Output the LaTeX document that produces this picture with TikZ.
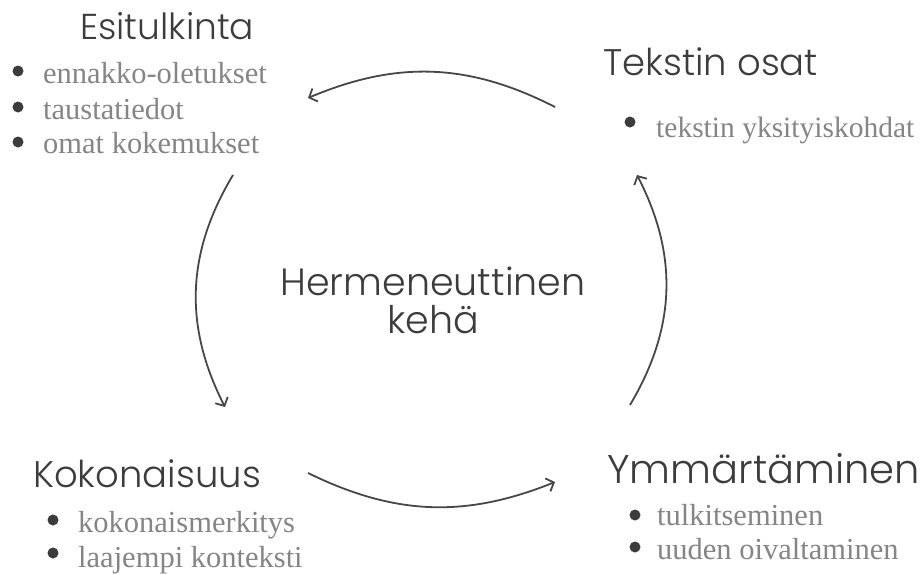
\documentclass[tikz,border=0pt]{standalone}
\usepackage{fontspec}
\newfontfamily\headfont{Poppins Light}
\newfontfamily\itemfont{Liberation Serif}
\usetikzlibrary{arrows.meta}
\definecolor{hkdark}{HTML}{3C3C3C}
\definecolor{hkgrey}{HTML}{858585}
\definecolor{hkline}{HTML}{474747}

\begin{document}
\begin{tikzpicture}[x=1pt,y=1pt,
  head/.style={anchor=base west,inner sep=0pt,text=hkdark,font=\headfont\fontsize{#1}{40}\selectfont},
  head/.default=37,
  item/.style={anchor=base west,inner sep=0pt,text=hkgrey,font=\itemfont\fontsize{#1}{34}\selectfont},
  item/.default=30.5,
  dot/.style={circle,fill=hkdark,inner sep=0pt,minimum size=11pt},
  arr/.style={-{Straight Barb[length=6.5pt,width=14pt]},hkline,line width=1.8pt}]
\useasboundingbox (0,0) rectangle (921,-574);
% headings
\node[head=36] (esi) at (80,-39) {Esitulkinta};
\node[head] (osat) at (603,-75) {Tekstin osat};
\node[head] (koko) at (33,-487) {Kokonaisuus};
\node[head=40] (ymm) at (607,-483) {Ymmärtäminen};
\node[text=hkdark,font=\headfont\fontsize{38}{38}\selectfont,align=center] (keha) at (433,-300) {Hermeneuttinen\\kehä};
% bullets
\node[dot] (d1) at (18,-71) {};
\node[item] (e1) at (43,-83) {ennakko-oletukset};
\node[dot] (d2) at (18,-107) {};
\node[item] (e2) at (43,-119) {taustatiedot};
\node[dot] (d3) at (18,-142) {};
\node[item] (e3) at (43,-153) {omat kokemukset};
\node[dot] (d4) at (630,-122) {};
\node[item=29.5] (t1) at (656,-137) {tekstin yksityiskohdat};
\node[dot] (d5) at (53,-520) {};
\node[item] (k1) at (78,-532) {kokonaismerkitys};
\node[dot] (d6) at (53,-553) {};
\node[item] (k2) at (78,-567) {laajempi konteksti};
\node[dot] (d7) at (635,-515) {};
\node[item] (y1) at (657,-525) {tulkitseminen};
\node[dot] (d8) at (635,-547) {};
\node[item] (y2) at (657,-559) {uuden oivaltaminen};
% arrows round the circle
\coordinate (topA) at (555,-107);
\coordinate (topB) at (308,-98);
\coordinate (lefA) at (233,-175);
\coordinate (lefB) at (225,-407);
\coordinate (botA) at (308,-473);
\coordinate (botB) at (555,-482);
\coordinate (rigA) at (630,-405);
\coordinate (rigB) at (637,-175);
\draw[arr] (topA) to[bend right=25] (topB);
\draw[arr] (lefA) to[bend right=29] (lefB);
\draw[arr] (botA) to[bend right=24] (botB);
\draw[arr] (rigA) to[bend right=29] (rigB);
\end{tikzpicture}
\end{document}
